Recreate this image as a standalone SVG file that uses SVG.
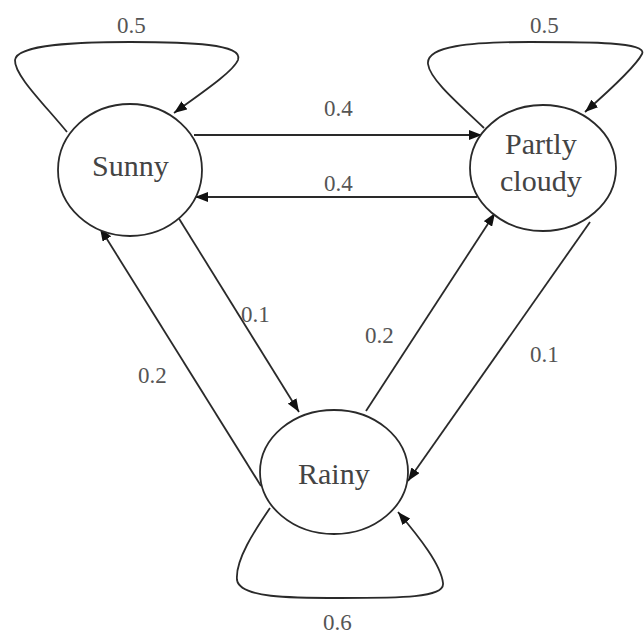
<svg xmlns="http://www.w3.org/2000/svg" width="644" height="636" viewBox="0 0 644 636">
<style>
.shape{fill:#fff;stroke:#2a2a2a;stroke-width:1.8}
.edge{fill:none;stroke:#2a2a2a;stroke-width:1.8}
.name{font-family:"Times New Roman",serif;font-size:30px;fill:#444}
.lbl{font-family:"Times New Roman",serif;font-size:23px;fill:#555}
</style>
<defs>
<marker id="arr" markerUnits="userSpaceOnUse" markerWidth="14" markerHeight="10" refX="13" refY="5" orient="auto">
<path d="M0,0 L13,5 L0,10 z" fill="#111"/>
</marker>
</defs>
<rect width="644" height="636" fill="#fff"/>
<g id="connectors">
<path class="edge" marker-end="url(#arr)" d="M67,132 C45,105 14,75 15,60 C17,44 80,42 130,42 C190,42 244,44 238,60 C233,72 200,94 174,113"/>
<path class="edge" marker-end="url(#arr)" d="M484,128 C460,105 430,80 428,64 C426,46 470,42 530,42 C590,42 648,42 642,54 C636,66 610,90 585,112"/>
<path class="edge" marker-end="url(#arr)" d="M270,508 C255,530 235,560 237,580 C240,598 290,598 340,598 C400,598 445,598 443,583 C441,565 420,538 398,512"/>
<path class="edge" marker-end="url(#arr)" d="M194,135 L482,135"/>
<path class="edge" marker-end="url(#arr)" d="M477,197 L195,197"/>
<path class="edge" marker-end="url(#arr)" d="M178,217 L299,412"/>
<path class="edge" marker-end="url(#arr)" d="M261,486 L100,228"/>
<path class="edge" marker-end="url(#arr)" d="M366,411 L495,213"/>
<path class="edge" marker-end="url(#arr)" d="M590,222 L408,481"/>
<text class="lbl" x="117" y="33">0.5</text>
<text class="lbl" x="530" y="33">0.5</text>
<text class="lbl" x="324" y="116">0.4</text>
<text class="lbl" x="324" y="191">0.4</text>
<text class="lbl" x="241" y="322">0.1</text>
<text class="lbl" x="365" y="343">0.2</text>
<text class="lbl" x="138" y="383">0.2</text>
<text class="lbl" x="530" y="362">0.1</text>
<text class="lbl" x="323" y="630">0.6</text>
</g>
<g id="sunny">
<ellipse class="shape" cx="130" cy="170" rx="72" ry="66"/>
<text class="name" x="92" y="176">Sunny</text>
</g>
<g id="partly">
<ellipse class="shape" cx="543" cy="168" rx="73" ry="63"/>
<text class="name" x="505" y="154">Partly</text>
<text class="name" x="500" y="191">cloudy</text>
</g>
<g id="rainy">
<ellipse class="shape" cx="334" cy="472" rx="74" ry="62"/>
<text class="name" x="298" y="484">Rainy</text>
</g>
</svg>
